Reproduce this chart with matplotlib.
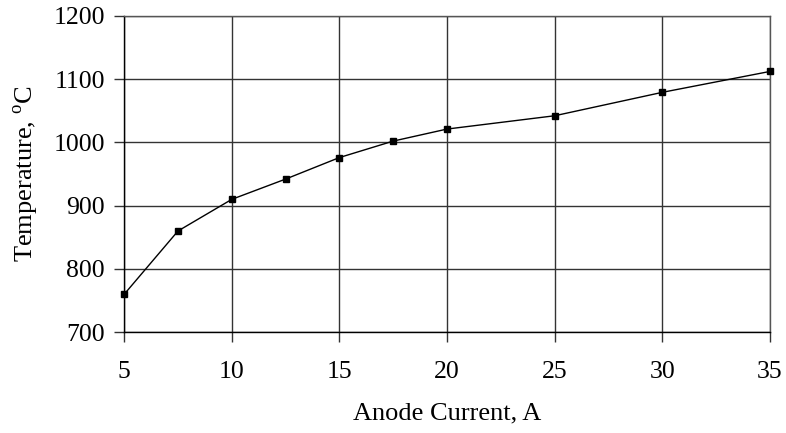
import matplotlib.pyplot as plt

plt.rcParams["font.family"] = ["Liberation Serif", "DejaVu Serif"]
plt.rcParams["mathtext.fontset"] = "custom"
plt.rcParams["mathtext.rm"] = "Liberation Serif"

corriente = [5, 7.5, 10, 12.5, 15, 17.5, 20, 25, 30, 35]
temperatura = [760, 860, 910, 942, 976, 1002, 1021, 1042, 1079, 1112]
xticks = [5, 10, 15, 20, 25, 30, 35]
yticks = [700, 800, 900, 1000, 1100, 1200]

fig = plt.figure(figsize=(7.86, 4.33), dpi=100)
ax = fig.add_axes([0.158, 0.2326, 0.8216, 0.7311])

ax.plot(corriente, temperatura, color="black", linewidth=1,
        marker="s", markersize=5, zorder=3, clip_on=False)

ax.set_xlim(5, 35)
ax.set_ylim(700, 1200)
ax.set_xticks(xticks)
ax.set_yticks(yticks)
ax.grid(True, color="#333333", linewidth=1)
ax.tick_params(direction="out", length=7, width=1, color="#333333",
               labelsize=18.5)
ax.tick_params(axis="y", pad=7)
ax.tick_params(axis="x", pad=14)
for s in ax.spines.values():
    s.set_color("#555555")
    s.set_linewidth(1)
ax.spines["left"].set_color("black")
ax.spines["bottom"].set_color("black")

ax.set_xlabel("Anode Current, A", fontsize=19, labelpad=14)
ax.set_ylabel("Temperature, $^{\\mathrm{o}}$C", fontsize=19, labelpad=9)

plt.savefig("out.png", dpi=100)
